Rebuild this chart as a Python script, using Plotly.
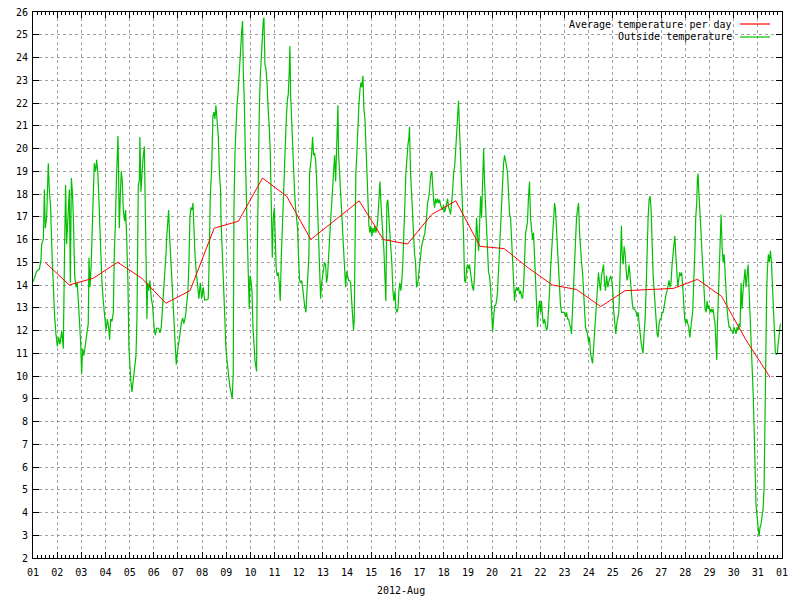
import pandas as pd
import plotly.graph_objects as go

# ---------------- data ----------------
# Outside temperature: hours since 2012-08-01 00:00, temperature (deg C)
HOURS_A = [0.3,3.6,6.3,7.9,8.6,10.3,11.3,12.2,13.6,15.2,
           16.2,17.5,18.9,20.2,21.5,22.8,24.2,25.5,26.8,28.5,
           30.1,31.4,32.4,33.4,34.8,36.1,37.1,38.1,39.1,40.1,
           41.4,42.7,44.0,45.7,47.3,48.3,49.3,50.6,52.0,53.3,
           54.9,55.6,56.6,57.9,59.2,60.2,60.9,62.2,63.2,64.5,
           65.9,67.2,68.5,69.8,71.2,72.5,73.8,75.1,76.1,77.1,
           78.4,79.8,80.8,81.8,82.8,83.7,84.4,85.0,85.7,86.7,
           87.7,88.7,89.7,91.0,92.0,93.0,94.3,95.3,96.3,97.3,
           98.3,99.6,100.9,102.3,103.3,103.9,104.6,105.6,106.2,107.2,
           108.2,109.2,110.6,111.2,111.9,112.5,113.2,113.9,114.9,116.2,
           117.5,118.8,120.2,121.5,122.8,124.8,126.1,127.4,128.8,130.1,
           131.4,132.1,132.7,133.7,134.7,135.7,136.7,137.7,138.7,140.0,
           141.3,142.3,143.3,144.6,146.0,147.3,148.6,149.9,151.3,152.6,
           153.9,154.9,155.9,156.9,157.9,158.9,159.9,160.9,162.2,163.5,
           164.8,166.2,167.5,169.1,170.5,172.5,174.1,175.1,176.1,177.4,
           178.1,178.7,179.7,180.7,181.7,182.7,184.1,185.1,186.4]
TEMPS_A = [14.15,14.6,14.7,15.1,15.8,16.0,18.2,16.5,17.0,19.35,
           18.2,17.4,15.35,13.9,12.6,11.85,11.3,11.7,11.4,12.0,
           11.2,15.7,18.4,15.8,17.4,18.2,14.1,18.7,18.1,17.0,
           14.4,13.9,14.1,12.95,11.5,10.1,11.2,10.9,11.5,11.8,
           12.3,15.2,13.9,15.0,17.0,18.1,19.35,19.0,19.5,18.9,
           17.1,15.5,14.1,13.3,12.6,12.0,12.5,12.15,11.6,12.5,
           12.4,12.8,15.5,16.6,18.55,19.8,20.55,19.0,16.5,17.9,
           19.0,18.55,17.3,16.8,17.3,16.15,14.1,11.2,10.2,9.75,
           9.3,9.9,10.4,10.9,12.6,17.0,18.4,18.55,20.5,18.1,
           19.0,19.5,20.1,18.1,15.35,13.9,12.5,14.1,13.75,14.2,
           13.4,13.1,12.15,11.8,12.1,12.1,11.9,12.15,13.1,13.75,
           14.4,15.35,16.0,16.8,17.3,16.15,15.35,14.55,13.3,12.5,
           11.2,10.5,11.0,11.35,11.85,12.3,12.55,12.3,12.6,13.1,
           13.75,15.0,17.0,17.4,17.3,17.6,16.0,15.35,14.55,14.1,
           13.4,14.1,13.4,13.9,13.35,13.35,13.4,15.35,17.9,19.0,
           20.15,21.4,21.6,21.3,21.9,21.1,20.5,19.0,18.1]

HOURS_B = [186.7,188.3,189.7,190.7,191.7,192.7,194.0,195.3,196.6,197.9,
           198.9,199.6,200.6,201.6,202.6,203.6,204.6,205.6,206.6,207.5,
           208.2,208.9,209.9,210.9,211.9,212.8,213.8,214.8,215.5,216.5,
           217.5,218.5,219.5,220.5,221.4,222.1,222.8,223.8,224.8,225.8,
           226.7,227.7,228.7,229.4,230.4,231.4,232.4,233.7,234.7,235.7,
           236.7,237.7,238.7,239.7,240.6,241.6,242.6,243.6,244.6,245.6,
           246.6,247.6,248.6,249.6,250.6,251.6,252.6,253.6,254.5,255.2,
           255.9,256.9,257.9,258.9,259.8,260.8,261.8,262.8,263.8,264.8,
           265.8,266.8,267.8,268.8,269.8,271.1,272.1,273.1,274.1,274.7,
           275.7,276.7,277.7,278.7,279.7,280.7,281.7,282.7,283.7,284.7,
           285.7,286.7,287.6,288.6,289.6,290.6,291.6,292.6,293.6,294.6,
           295.6,296.6,297.6,298.6,299.6,300.6,301.6,302.2,302.9,303.5,
           304.5,305.5,306.5,307.5,308.5,309.5,310.5,311.5,312.5,313.5,
           314.5,315.5,316.4,317.4,318.4,319.1,319.8,320.7,321.7,322.7,
           323.7,324.7,325.7,326.7,327.7,328.7,329.7,330.7,331.7,332.7,
           333.7,334.7,335.6,336.6,337.6,338.6,339.6,340.6,341.6,342.6,
           343.6,344.6,345.6,346.6,347.6,348.6,349.5,350.5,351.5,352.5,
           353.5,354.5,355.5,356.5,357.5,358.5,359.5,360.5,361.5,362.5,
           363.5,364.4,365.4,366.4,367.4,368.4,369.4,370.4,371.4,372.4,
           373.4,374.0,375.0,376.0,377.0,378.0,379.0,380.0,381.0,382.3,
           383.6]
TEMPS_B = [16.95,14.9,13.75,12.5,11.2,10.7,10.1,9.6,9.3,9.0,
           10.1,17.3,19.8,20.95,21.9,22.4,23.35,24.3,24.6,25.3,
           25.6,23.35,22.1,19.8,17.6,15.7,14.55,12.95,14.4,14.2,
           13.75,12.15,11.0,10.7,10.4,10.2,15.35,20.15,21.75,23.2,
           24.15,24.95,25.6,25.75,23.7,23.5,22.9,21.6,20.95,19.8,
           17.3,15.2,16.95,17.4,16.15,14.7,14.4,14.55,14.1,13.3,
           15.2,16.5,17.6,19.35,20.5,21.3,22.1,22.4,23.35,24.5,
           22.4,21.3,19.7,18.9,18.1,17.4,16.8,16.5,15.2,14.2,
           14.1,14.2,13.9,13.4,13.1,12.8,13.75,14.4,15.35,18.9,
           19.35,19.7,20.5,19.7,19.8,19.5,18.7,17.3,15.7,14.55,
           13.4,14.1,14.4,14.7,15.0,14.9,14.1,14.4,15.0,16.0,
           16.8,17.6,18.2,18.9,19.7,18.55,20.15,20.95,21.9,19.8,
           19.0,18.2,17.3,16.3,15.35,14.55,13.9,14.6,14.4,14.2,
           14.2,14.1,13.4,12.8,12.0,12.5,15.35,18.9,19.8,21.1,
           21.9,22.55,22.9,22.7,23.2,21.75,21.3,20.15,18.9,17.3,
           16.6,16.3,16.6,16.15,16.5,16.3,16.6,16.3,16.5,16.95,
           18.2,18.55,17.6,16.6,16.15,15.5,14.4,13.3,17.6,17.75,
           16.95,16.3,15.5,14.9,13.75,13.3,13.75,12.95,12.8,12.95,
           13.75,14.1,13.75,14.2,15.0,16.0,17.6,18.9,19.8,20.15,
           20.5,20.95,19.0,17.9,16.95,16.3,15.35,15.0,13.9,14.1,
           14.7]

HOURS_C = [384.3,386.0,387.6,389.3,390.9,391.9,393.3,394.3,395.3,396.2,
           396.9,397.9,398.9,399.9,400.9,401.9,402.9,403.9,404.9,405.8,
           406.8,407.8,408.8,409.8,410.8,411.8,412.8,413.8,414.8,415.8,
           416.8,417.8,418.8,419.7,420.7,421.7,422.7,423.7,424.7,425.7,
           426.7,427.7,428.7,429.7,430.7,431.7,432.7,433.6,434.6,435.6,
           436.6,437.6,438.6,439.6,440.6,441.6,442.6,443.6,444.6,445.6,
           446.6,447.6,448.5,449.5,450.5,451.5,452.5,453.5,454.5,455.5,
           456.5,457.5,458.5,459.5,460.5,461.5,462.4,463.4,464.4,465.4,
           466.4,467.4,468.4,469.4,470.4,471.4,472.4,473.4,474.4,475.4,
           476.3,477.3,478.3,479.3,480.3,481.3,482.3,483.3,484.3,485.3,
           486.3,487.3,488.3,489.3,490.3,491.2,492.2,493.2,494.2,495.2,
           496.2,497.2,498.2,499.2,500.2,501.2,502.2,503.2,504.2,505.1,
           506.1,507.1,508.1,509.1,510.1,511.1,512.1,513.1,514.1,515.1,
           516.1,517.1,518.1,519.0,520.0,521.0,522.0,523.0,524.0,525.0,
           526.0,527.0,528.0,529.0,530.0,531.0,532.0,532.9,533.9,534.9,
           535.9,536.9,537.9,538.9,539.9,540.9,541.9,542.9,543.9,544.9,
           545.9,546.9,547.8,548.8,549.8,550.8,551.8,552.8,553.8,554.8,
           555.8,556.8,557.8,558.8,559.8,560.8,561.7,562.7,563.7,564.7,
           565.7,566.7,567.7,568.7,569.7,571.0,572.3]
TEMPS_C = [15.0,15.7,16.0,16.3,16.95,17.6,17.9,18.55,18.9,19.0,
           18.2,17.75,17.4,17.8,17.6,17.8,17.6,17.75,17.5,17.35,
           17.3,17.5,17.2,17.35,17.6,17.8,17.4,17.3,17.1,17.5,
           18.1,18.9,19.2,19.8,20.5,21.1,22.1,20.8,19.8,18.9,
           17.6,16.15,14.2,14.1,14.7,14.9,14.7,14.9,14.55,14.1,
           13.9,13.75,14.4,15.7,16.95,16.15,15.5,16.6,17.9,16.95,
           18.2,20.0,18.55,17.6,16.6,15.7,14.55,14.4,13.9,12.95,
           11.95,12.5,13.1,13.1,13.3,13.75,14.7,15.7,16.6,17.6,
           18.55,19.35,19.7,19.5,19.2,18.9,18.2,17.1,16.95,16.0,
           15.0,14.1,13.3,13.75,13.9,13.75,13.9,13.6,13.75,13.5,
           13.4,13.9,15.35,16.3,16.5,16.8,17.9,18.55,16.95,16.3,
           16.0,16.3,15.35,14.7,13.75,12.15,12.95,13.3,12.8,13.3,
           12.6,12.3,12.5,12.15,12.0,12.15,12.8,13.75,14.7,15.35,
           16.15,16.95,17.6,17.3,16.5,15.5,14.4,13.6,13.1,12.8,
           12.8,12.8,12.8,12.6,12.8,12.5,12.5,12.3,12.15,11.85,
           12.8,13.75,15.35,16.3,16.95,17.3,17.6,16.3,15.35,15.0,
           14.55,13.75,12.8,12.15,12.0,11.85,11.5,11.7,11.0,10.7,
           10.55,11.2,11.85,12.5,13.3,13.9,14.55,14.1,13.75,14.4,
           14.7,14.9,14.1,13.75,14.4,13.9,14.2]

HOURS_D = [573.9,574.9,575.9,576.9,577.9,578.9,579.9,580.9,581.9,582.9,
           583.9,584.5,585.2,586.2,587.2,588.2,589.1,590.1,591.1,592.1,
           593.1,594.1,595.1,596.1,597.1,598.1,599.1,600.1,601.1,602.1,
           603.1,604.0,605.0,606.0,607.0,608.0,609.0,610.0,611.0,612.0,
           613.0,614.0,615.0,616.0,617.0,617.9,618.9,619.9,620.9,621.9,
           622.9,623.9,624.9,625.9,626.9,627.9,628.9,629.9,630.9,631.8,
           632.8,633.8,634.8,635.8,636.8,637.5,638.5,639.5,640.5,641.4,
           642.4,643.4,644.4,645.4,646.4,647.4,648.4,649.4,650.4,651.4,
           652.4,653.4,654.4,655.3,656.3,657.3,658.3,659.3,660.0,660.6,
           661.6,662.6,663.6,664.6,665.6,666.6,667.6,668.6,669.6,670.6,
           671.6,672.6,673.6,674.5,675.5,676.5,677.5,678.5,679.2,679.8,
           680.8,681.8,682.8,683.5,684.5,685.5,686.5,687.5,688.4,689.4,
           690.4,691.4,692.4,693.4,694.4,695.4,696.4,697.4,698.4,699.4,
           700.4,701.4,702.4,703.3,704.3,705.3,706.3,707.3,708.3,709.3,
           710.3,711.3,712.3,713.3,714.3,715.3,716.3,717.2,718.2,719.2,
           720.2,721.2,722.2,723.2,724.2,725.2,726.2,726.8,727.5,728.2,
           728.8,729.5,730.5,731.5,732.5,733.5,734.5,735.5,736.4,737.4,
           738.4,739.4,740.4,741.4,742.4]
TEMPS_D = [14.4,14.2,13.75,12.8,12.15,11.85,12.3,12.5,12.8,14.1,
           15.7,16.6,15.35,14.9,15.7,15.35,14.7,14.2,14.4,14.9,
           14.4,13.75,13.3,12.95,12.95,12.9,12.8,12.6,12.8,12.3,
           11.7,11.5,11.2,11.0,11.85,12.5,13.75,15.7,16.95,17.75,
           17.9,17.3,15.7,14.4,13.75,12.8,12.5,11.85,11.7,12.3,
           12.5,12.5,12.8,12.8,13.1,13.3,13.6,13.75,14.1,14.2,
           13.9,14.1,14.9,15.5,16.0,16.15,15.35,14.4,13.9,14.2,
           14.55,14.4,14.55,13.9,12.8,12.5,12.3,12.5,12.3,12.15,
           11.7,12.0,12.5,12.8,13.75,15.35,16.95,17.6,18.7,18.9,
           17.9,17.3,16.3,15.35,14.7,13.75,12.95,12.8,13.3,12.95,
           13.1,12.8,12.95,12.8,12.95,12.6,12.3,11.35,10.7,12.15,
           13.75,15.35,16.6,17.1,15.7,15.0,15.35,14.4,13.6,12.95,
           12.5,12.15,12.15,12.0,12.0,11.85,12.15,12.0,11.85,12.15,
           12.0,12.3,12.15,14.1,12.95,13.75,14.4,14.7,13.9,14.55,
           14.9,13.75,12.6,12.15,11.0,9.3,7.7,5.8,4.3,3.85,
           3.35,2.95,3.35,3.5,3.85,4.15,5.1,7.35,10.55,12.5,
           13.75,14.7,15.35,15.0,15.5,15.0,14.1,12.95,11.85,11.0,
           10.95,11.0,11.5,12.0,12.3]

# Average temperature per day (plotted at noon of each day)
AVG_DAYS = list(range(1, 32))
AVG_TEMPS = [15.0, 14.0, 14.3, 15.0, 14.3, 13.2, 13.75, 16.5, 16.8, 18.7,
             17.9, 16.0, 16.85, 17.7, 16.0, 15.8, 17.1, 17.7, 15.7, 15.6,
             14.75, 14.0, 13.8, 13.05, 13.75, 13.8, 13.85, 14.25, 13.5, 11.6,
             9.95]

SERIES_NAMES = ["Average temperature per day", "Outside temperature"]
X_TITLE = "2012-Aug"

# ---------------- build ----------------
hours, temps = [], []
for h, t in ((HOURS_A, TEMPS_A), (HOURS_B, TEMPS_B), (HOURS_C, TEMPS_C), (HOURS_D, TEMPS_D)):
    if len(h) != len(t):
        raise ValueError(f"length mismatch {len(h)} vs {len(t)}")
    hours += h
    temps += t

base = pd.Timestamp("2012-08-01 00:00")
x_out = [base + pd.Timedelta(hours=v) for v in hours]
x_avg = [pd.Timestamp(2012, 8, d, 12) for d in AVG_DAYS]

RED = "#ff0000"
GREEN = "#00c000"
FONT = "DejaVu Sans Mono"
FS = 10

fig = go.Figure()
fig.add_trace(go.Scatter(x=x_out, y=temps, mode="lines", name=SERIES_NAMES[1],
                         line=dict(color=GREEN, width=1.2), showlegend=False))
fig.add_trace(go.Scatter(x=x_avg, y=AVG_TEMPS, mode="lines", name=SERIES_NAMES[0],
                         line=dict(color=RED, width=1), showlegend=False))

L, R, T, B = 33, 18, 12, 42
W, H = 800, 600
pw, ph = W - L - R, H - T - B


def px_x(px):
    return (px - L) / pw


def px_y(py):
    return (H - B - py) / ph


axis_common = dict(
    showline=True, linecolor="black", linewidth=1, mirror="ticks",
    ticks="inside", ticklen=6, tickcolor="black", tickwidth=1,
    showgrid=True, gridcolor="#a0a0a0", gridwidth=1, griddash="3px,3px",
    zeroline=False, automargin=False,
    tickfont=dict(family=FONT, size=FS, color="black"),
)

fig.update_layout(
    template="none",
    width=W, height=H,
    margin=dict(l=L, r=R, t=T, b=B, pad=0, autoexpand=False),
    plot_bgcolor="white", paper_bgcolor="white",
    showlegend=False,
    xaxis=dict(type="date", range=["2012-08-01", "2012-09-01"],
               tick0="2012-08-01", dtick=86400000, tickformat="%d",
               ticklabelstandoff=5,
               minor=dict(dtick=4 * 3600000, ticks="inside", ticklen=3,
                          tickcolor="black", showgrid=False),
               **axis_common),
    yaxis=dict(range=[2, 26], dtick=1, tick0=2, ticklabelstandoff=2, **axis_common),
)

# legend (gnuplot style: text right-aligned, sample on the right)
for i, (name, col) in enumerate(zip(SERIES_NAMES, [RED, GREEN])):
    py = 24 + i * 13
    fig.add_annotation(x=px_x(734), y=px_y(py), xref="paper", yref="paper",
                       text=name, showarrow=False, xanchor="right", yanchor="middle",
                       xshift=0, font=dict(family=FONT, size=FS, color="black"))
    fig.add_shape(type="line", xref="paper", yref="paper",
                  x0=px_x(740), x1=px_x(770), y0=px_y(py), y1=px_y(py),
                  line=dict(color=col, width=1.2))

fig.add_annotation(x=px_x(401), y=px_y(590), xref="paper", yref="paper",
                   text=X_TITLE, showarrow=False, xanchor="center", yanchor="middle",
                   font=dict(family=FONT, size=FS, color="black"))

fig.write_html("out.html")
